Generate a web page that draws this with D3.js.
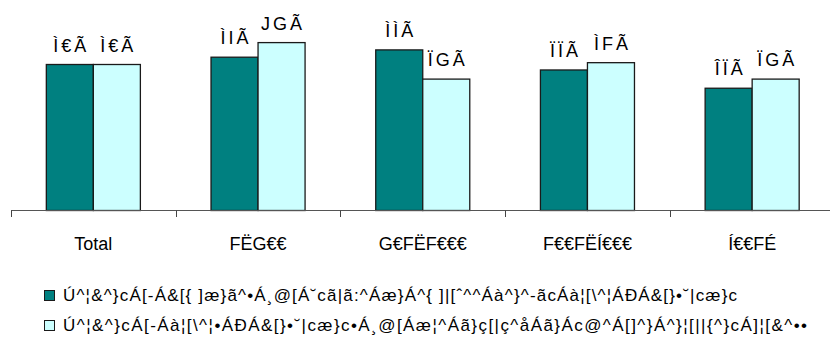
<!DOCTYPE html>
<html><head><meta charset="utf-8">
<script src="https://cdn.jsdelivr.net/npm/d3@7/dist/d3.min.js"></script>
<style>body{margin:0;background:#fff}svg{display:block}text{font-family:Arial,"Liberation Sans",sans-serif;fill:#000}.nar{font-family:"Liberation Sans Narrow","Arial Narrow",Arial,sans-serif}</style>
</head><body><svg id="c" width="830" height="341"></svg>
<script>
const categories = ["Total", "FËG€€", "G€FËF€€€", "F€€FËÍ€€€", "Í€€FÉ"];
const seriesNames = [
  "Ú^¦&^}cÁ[-Á&[{ ]æ}ã^•Á¸@[Á˘cã|ã:^Áæ}Á^{ ]|[ˆ^^Áà^}^-ãcÁà¦[\\^¦ÁÐÁ&[}•˘|cæ}c",
  "Ú^¦&^}cÁ[-Áà¦[\\^¦•ÁÐÁ&[}•˘|cæ}c•Á¸@[Áæ¦^Áã}ç[|ç^åÁã}Ác@^Á[]^}Á^}¦[||{^}cÁ]¦[&^••"
];
const series1 = [80, 84, 88, 77, 67];
const series2 = [80, 92, 72, 81, 72];
const labels1 = ["Ì€Ã", "ÌIÃ", "ÌÌÃ", "ÏÏÃ", "ÎÏÃ"];
const labels2 = ["Ì€Ã", "JGÃ", "ÏGÃ", "ÌFÃ", "ÏGÃ"];
const colors = ["#008080", "#CCFFFF"];

const svg = d3.select("#c");
const x0 = d3.scaleBand().domain(categories).range([11, 834.5]).padding(0);
const bw = x0.bandwidth();
const x1 = d3.scaleBand().domain([0, 1]).range([bw * 0.2145, bw * 0.7855]);
const y = d3.scaleLinear().domain([0, 100]).range([210.5, 28]);

const data = categories.map((c, i) => ({c, v: [series1[i], series2[i]], l: [labels1[i], labels2[i]]}));

const g = svg.append("g");
data.forEach(d => {
  [0, 1].forEach(s => {
    g.append("rect")
      .attr("x", x0(d.c) + x1(s))
      .attr("y", y(d.v[s]))
      .attr("width", x1.bandwidth())
      .attr("height", y(0) - y(d.v[s]))
      .attr("fill", colors[s])
      .attr("stroke", "#1a1a1a")
      .attr("stroke-width", 1.3);
    g.append("text")
      .attr("class", "nar")
      .attr("x", x0(d.c) + x1(s) + x1.bandwidth() / 2 + 1.5)
      .attr("y", y(d.v[s]) - 13)
      .attr("text-anchor", "middle")
      .attr("font-size", 18)
      .attr("letter-spacing", 3)
      .text(d.l[s]);
  });
});

// axis
const ax = svg.append("g");
ax.append("line").attr("x1", 11).attr("x2", 834.5).attr("y1", 210.5).attr("y2", 210.5)
  .attr("stroke", "#555").attr("stroke-width", 1.2);
const ticks = categories.map(c => x0(c)).concat([x0.range()[1]]);
ticks.forEach(t => {
  ax.append("line").attr("x1", Math.round(t) + 0.5).attr("x2", Math.round(t) + 0.5)
    .attr("y1", 210.5).attr("y2", 217).attr("stroke", "#444").attr("stroke-width", 1);
});
categories.forEach(c => {
  ax.append("text").attr("x", x0(c) + bw / 2).attr("y", 250)
    .attr("text-anchor", "middle").attr("font-size", 18).text(c);
});

// legend
const leg = svg.append("g");
const legWidths = [674, 744];
seriesNames.forEach((n, i) => {
  const yy = 290 + i * 30;
  leg.append("rect").attr("x", 44.5).attr("y", yy + 0.5).attr("width", 10).attr("height", 10)
    .attr("fill", colors[i]).attr("stroke", "#1a1a1a").attr("stroke-width", 1);
  leg.append("text").attr("class", "nar").attr("x", 63).attr("y", yy + 11).attr("font-size", 17)
    .attr("textLength", legWidths[i]).attr("lengthAdjust", "spacing").text(n);
});
</script></body></html>
